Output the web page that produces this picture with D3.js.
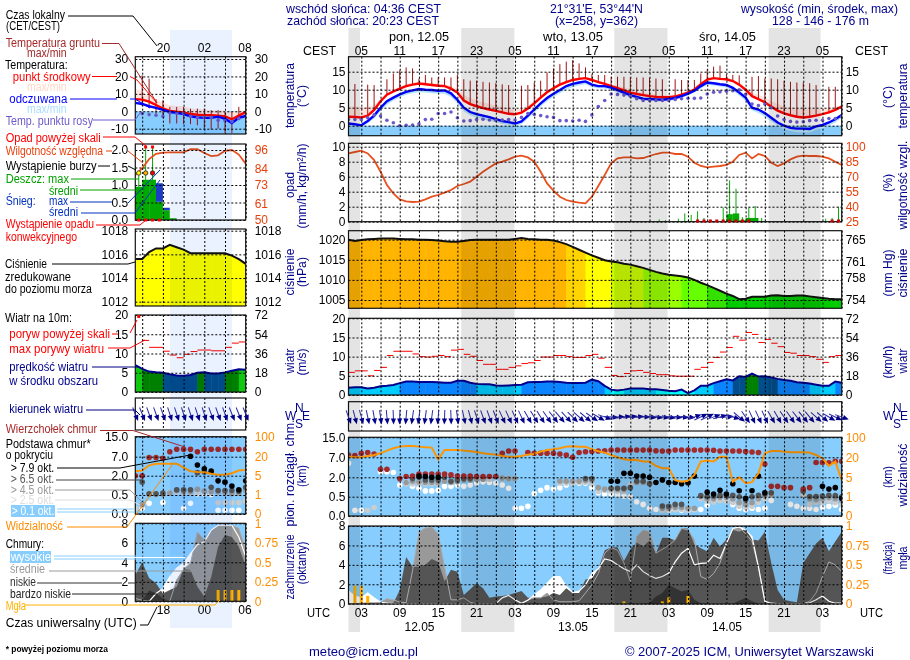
<!DOCTYPE html>
<html>
<head>
<meta charset="utf-8">
<script src="https://cdn.jsdelivr.net/npm/d3@7"></script>
<style>
body { margin: 0; background: #fff; }
svg { display: block; }
text { font-family: "Liberation Sans", Arial, sans-serif; font-size: 12px; }
.grid line { stroke: #000; stroke-dasharray: 2 2; }
.grid path { display: none; }
</style>
</head>
<body>
<svg id="chart" width="910" height="660"></svg>
<script>
const _ = null;

// hourly values for the main chart, hour 0 = 12.05 01 UTC
const tempMid = [2.5,2.4,2.3,2.8,4.4,6.8,8.6,9.5,10.3,11,
  11.4,11.7,11.5,11.3,11.1,11,10.3,9.2,7,6,
  5.4,4.9,4.5,4.1,3.7,3.3,3.2,3.6,4.8,6.2,
  7.8,9.3,10.4,11.4,12.1,12.7,13,13.2,12.7,12.1,
  11.6,11,10.4,9.8,9.2,8.8,8.5,8.2,8,7.9,
  7.9,8.1,8.6,9.2,10,11.5,12.8,13.2,13,12.9,
  12.4,11.4,10,8.2,7.4,6.5,5.3,4.2,3.4,2.9,
  2.5,2.3,2.5,2.8,3.2,3.7,4.4,5.3];
const tempMax = [5.3,5.3,5.2,5.2,5.7,7.3,9,9.9,10.8,11.5,
  11.9,12.1,12,11.9,11.7,11.5,11,10.3,8.5,7.6,
  7,6.5,6,5.6,5.2,4.8,4.6,4.8,5.6,6.9,
  8.3,9.8,10.8,11.8,12.4,13,13.3,13.5,13,12.5,
  12,11.5,11,10.7,10.2,9.6,9.2,8.9,8.6,8.5,
  8.5,8.6,9,9.6,10.3,11.8,13,13.4,13.3,13.2,
  12.8,12,10.6,9.2,8.5,7.8,6.8,6,5.3,5,
  4.8,4.7,4.7,4.7,4.8,5,5.3,5.8];
const feelsMid = [.6,.4,.1,1.3,2.8,5,6.8,7.8,8.7,9.4,
  9.8,10.2,10,9.9,9.7,9.8,9,7.2,5,3.8,
  3.2,2.8,2.4,1.8,1.3,1,.6,1.2,2.8,4.5,
  6.2,7.7,8.9,9.9,11,11.6,12,12.3,11.4,11,
  11,10.6,9.9,9.2,8.5,8,7.5,7.4,7.3,7.2,
  7.4,7.7,8.2,8.9,9.7,11,12,11.8,11.5,11.3,
  10.5,9.2,7.8,5,4.5,3.5,2.2,.9,0,-.6,
  -.8,-.8,-.9,-.2,.2,.9,1.8,3];
const feelsMin = [0,-.1,-.3,.6,2,4,5.8,6.9,7.9,8.6,
  9,9.3,9.2,9,8.9,8.9,8,6.2,4,2.9,
  2.3,1.8,1.4,.9,.5,.2,-.1,.4,1.9,3.6,
  5.3,6.8,8,9,10,10.7,11.2,11.5,10.7,10.4,
  10.3,9.9,9.2,8.5,7.9,7.4,7,6.9,6.8,6.7,
  6.9,7.2,7.7,8.4,9.2,10.3,11.3,11.2,10.9,10.6,
  9.7,8.4,6.8,4.2,3.5,2.5,1.2,0,-1,-1.5,
  -1.8,-1.9,-1.9,-1.2,-.7,0,.9,2.2];
const dewPoint = [1.7,1.7,1.7,2.2,3,2.7,1.5,.8,0,.1,
  .2,.5,1.7,1.8,3.4,3.4,3.8,2.2,1.3,1.4,
  1.7,1.8,1.6,1.5,1.6,1.7,1.6,2.3,3.4,3.1,
  2.8,2.5,2.3,1.4,1.4,1.3,1.5,1.2,3,5.3,
  7,8.8,8.7,8.5,8.2,7.5,7,7,7,7,
  7,7.3,7.5,7.6,7.6,7.7,8.8,9.3,9.4,9.6,
  9.7,10,8.7,6,5.6,6,5,2.7,1.7,1.2,
  1,1.1,1.4,1.5,1.5,2,2,2.5];
const groundMax = [_,11.6,_,11.4,11.3,_,12.9,14.5,15.4,16.2,
  15.9,13.1,14.1,13.4,13.4,13.4,13.4,14.1,12.9,12.5,
  12.5,12.2,12,11.8,11.5,11.3,_,11.1,11.3,12,
  12.5,14.8,15.9,17.1,17.8,18.2,17.3,16.2,14.3,14.1,
  14.1,13.6,13.6,13.6,13.4,13.4,13.4,13.3,13.1,12.9,
  _,12.9,12.7,12.7,12.7,14.5,15.6,16.4,16.7,14.3,
  14.1,14,_,13.6,13.8,13.1,13.1,12.9,12.5,12.2,
  12,12,11.8,11.3,_,10.8,10.8,_];
const relHumidity = [93.3,94.7,96,93.3,86.7,75,61.7,53.3,47.3,45.3,
  44.7,45,47.3,50,51.7,54,56.7,60.7,62.7,65,
  70,75,79.3,83.3,85,87.3,90,91,89.3,85,
  75,63.3,56,50,46.7,45,44,43.3,50,60.7,
  71.7,83.3,88.3,89.3,89.3,88.3,88.7,90.7,92.7,94,
  94,92.7,92.7,90,84,80.7,79.3,80,80.7,81.7,
  85,91.7,94,88.3,92.7,90.7,84,80.7,83.3,87.3,
  90,91,90.7,90.7,90,88.3,85,81.7];
const rainHours = [48,49,51,52,53,54,55,58,59,60,61,62,63,64,74,75,76];
const rainMax = [.3,.2,.4,1.1,.9,1.4,.5,1.9,5.5,4.4,.6,1.9,2.1,.5,.4,.5,2];
const rainMean = [0,0,0,.1,.05,.05,0,.1,1,1.1,.2,.5,.5,.1,0,0,.05];
const convectiveHours = [54,55,56,57,58,59,60,61,62,75,76];
const pressure = [1020,1019.7,1019.9,1020.1,1020.2,1020.3,1020.3,1020.3,1020.2,1020.1,
  1020.1,1020,1020,1019.9,1019.8,1019.6,1019.5,1019.5,1019.7,1019.9,
  1020,1020,1020,1020,1020,1020,1020.2,1020.4,1020.2,1020.1,
  1020,1020,1019.8,1019.4,1018.9,1018.2,1017.5,1016.8,1016.1,1015.5,
  1014.9,1014.6,1014.4,1014,1013.8,1013.4,1013,1012.5,1012,1011.6,
  1011.3,1011.1,1010.9,1010.6,1010,1009.3,1008.7,1008,1007.3,1006.6,
  1006,1005.2,1005.3,1005.8,1005.8,1005.8,1006.1,1006.2,1006,1006,
  1006.1,1006.1,1005.9,1005.7,1005.5,1005.3,1005.2,1005.2];
const windSpeed = [1.9,2,2,1.7,1.9,2.3,2.4,2.6,3.1,3.5,
  3.5,3.4,3.4,3.4,3.3,3.2,3.2,3.7,3.7,3.2,
  2.9,2.8,2.8,2.5,2.4,2.5,2.6,2.7,3.3,3.4,
  3.4,3.5,3.5,3.4,3.2,3.1,3.1,3.2,4,3.6,
  2.4,1.4,1.2,1.4,1.7,1.7,1.7,1.5,1.5,1.3,
  1.1,1,1.4,.5,1.2,2.4,2.4,3.1,3.6,4.1,
  3.8,4.9,4.7,5.6,4.8,4.9,4.6,4.2,3.9,3.7,
  3.3,3.2,3,2.7,2.4,2.4,3.5,3.2];
const windGust = [5.9,6.3,6.3,5,6.4,7.2,10.3,11.4,11.4,11.4,
  10.7,10,9.9,10.1,10.3,10,11.7,11.9,10.6,10.1,
  9,8,8,6.7,6.7,7.2,7.6,8.2,8.4,9,
  9.9,9.9,10.3,10.3,10,9.8,9.8,10.3,10.6,9.6,
  7.2,5.1,4.8,5.6,6.3,6.4,5.9,5.6,5.3,5.3,
  5,4.9,4.9,4.9,6.7,7.2,8.5,9.8,11.2,12.4,
  15.3,14.3,16.3,15.8,13.7,14.5,13.5,12.6,11.1,10.9,
  10.3,10.3,10,9.3,8.5,10,10.3];
const windDir = [340,345,345,348,350,352,355,358,2,5,
  8,8,8,8,5,2,358,352,348,345,
  342,340,340,338,335,335,335,335,330,328,
  328,325,322,320,318,315,312,310,305,300,
  290,275,268,262,262,265,270,275,278,278,
  280,275,275,275,250,245,245,250,255,265,
  285,310,325,335,335,335,330,330,325,325,
  322,320,320,312,310,300,295,290];
const cloudTop = [7.9,7.7,8.6,8.9,8.3,4,4,_,1.9,2.2,
  2.3,2.8,2.8,2.8,2.8,2.8,2.6,2.3,2.3,2.3,
  2.2,2.2,2.2,2.2,8.6,9.5,9.5,_,8.9,8.6,
  8.6,8.6,8.6,8.3,7.9,7,8.9,9.2,9.3,9.5,
  9.6,9.9,9.9,9.9,9.9,9.9,9.9,9.9,9.6,9.5,
  9.5,9.9,9.9,9.9,9.9,9.9,9.9,9.8,9.5,9.5,
  9.5,9.5,9.3,9.1,8.9,5.3,1.3,1.3,1.2,1.2,
  _,1.1,1.2,5.7,5.7,5.6,6,6];
const base79 = [_,_,_,_,_,_,_,_,_,_,
  _,2.3,2.2,2,2,_,_,_,_,_,
  _,_,_,_,_,_,_,_,_,_,
  _,_,_,_,_,_,_,_,_,_,
  _,1.7,1.7,3,3,2.3,2.3,2,1.6,1.8,
  1.6,1.6,1.5,1.6,2.3,_,.85,.7,1,.7,
  1.5,.96,.46,.96,2.3,.8,_,_,_,_,
  _,_,_,_,1.3,1.1,1.2,.46];
const base65 = [_,_,_,_,_,_,_,_,_,_,
  1.9,2,1.8,1.8,1.8,2,1.7,1.8,1.9,1.9,
  _,_,_,_,_,_,_,_,_,_,
  _,_,_,_,_,_,_,1.9,1.9,_,
  _,1.15,1.15,1.15,1.2,1.7,1.7,1.5,_,.26,
  .25,.3,.3,1.55,_,.58,.52,.55,.6,.6,
  .6,.5,.42,.5,.6,.7,.8,_,_,_,
  _,.95,.52,.52,.55,.6,.58,.5];
const base45 = [_,_,_,_,_,_,_,_,_,1.6,
  1.7,1.65,1.6,1.6,1.6,1.7,1.6,1.65,1.8,1.8,
  1.85,1.85,_,_,1.95,1.9,1.9,_,_,_,
  _,_,_,1.7,1.7,1.7,1.7,1.75,1.75,1.2,
  1.1,1.1,1.1,1.05,_,1.6,1.6,1.55,_,.2,
  .2,.22,.22,.2,.2,.52,.45,.45,.48,.48,
  .45,.35,.3,.35,.45,.55,.7,_,_,_,
  _,.9,.45,.42,.45,.48,.45,.4];
const base25 = [_,_,_,.15,.22,_,_,_,_,1.5,
  1.5,1.5,1.5,1.5,1.5,_,_,_,1.85,1.85,
  1.9,1.9,1.85,_,1.9,1.9,_,_,_,_,
  _,_,_,1.55,1.55,1.55,1.6,1.6,1.5,.9,
  1,.95,.95,.9,1.45,1.6,_,_,_,.15,
  .15,.17,.17,.15,.17,.45,.38,.36,.4,.38,
  .35,.25,.22,.25,.35,.45,.6,_,_,_,
  _,.6,.3,.35,.35,.38,.35,.3];
const base01 = [5.5,.15,.15,_,_,3.4,3.4,3.2,1.4,1.6,
  1.3,1.15,.95,.95,1,1.3,1.3,1.4,1.3,1.4,
  1.55,1.65,1.6,1.55,1.4,1.15,.2,.2,.25,.75,
  1,1.2,1.1,1.2,1.4,1.55,1.55,1.55,1.2,.8,
  .7,.7,.65,.55,.5,.37,.3,.2,.17,.15,
  .15,.17,.15,.15,.17,.17,.28,.4,.43,.43,
  .3,.2,.17,.2,.17,.2,.4,_,_,.3,
  .25,.2,.2,.17,.22,.25,.28,.17];
const visibility = [22.7,20,20,25.3,29.3,36,46.7,56,62.7,65.3,
  65.3,62.7,60,58.7,18.5,49.3,49.3,49.3,46.7,44,
  41.3,36,33.3,30.7,25.3,22.7,22.7,25.3,30.7,33.3,
  42.7,49.3,52,56,62.7,64,62.7,62.7,52,44,
  38.7,29.3,20,18.5,18,18,16.8,16.8,13.5,11.8,
  11.8,4.4,4.1,4.3,6.8,16.8,17.5,16.8,22.7,22.7,
  4.1,5,3.8,4,8,36,45.3,45.3,42.7,40,
  40,40,38.7,29.3,19.3,13.5,16.8,4.4];
const cloudHigh = [1.3,.75,.6,1.1,.6,.15,.05,0,0,0,
  0,0,0,0,0,0,0,0,0,0,
  0,0,0,0,.6,.85,.4,.05,.35,.9,
  1.4,2.1,2.8,2.8,1.8,1.15,1.3,1.95,3.1,3.6,
  4.6,4.45,4,3.6,3.3,4,3.3,2.9,2.6,2.8,
  3.15,4.3,5.2,5.7,4,4.15,4.2,5,4.65,6.2,
  7.75,7.9,7.6,6.9,3.8,.25,.05,0,0,0,
  0,0,.1,.4,.8,.25,.05,.05];
const cloudMid = [0,0,.05,.1,.1,.15,.5,.4,.15,.1,
  3.4,7.4,7.8,7.9,7.2,3.8,.4,.4,.6,.15,
  0,0,0,0,0,.05,0,0,.4,.6,
  .6,1.1,.4,.2,.2,.2,.3,1.1,1.95,3.1,
  5.2,5.8,5.5,4.2,2.3,6.9,7.6,7.4,5.2,5.6,
  6,6.6,7.75,7.6,6.6,2.8,2.5,3.1,4.2,6.2,
  7.75,7.9,7.2,6.4,3.8,.25,.05,0,0,0,
  0,0,.25,1.1,2.8,4.3,4,3.3];
const cloudLow = [0,0,0,0,0,0,0,.05,1.4,4.8,
  3.8,3.8,4,4.6,4.3,2.3,3.5,3.3,.9,1.5,
  2.1,1.6,.6,.75,.8,.9,1.1,1.3,.6,.6,
  .6,.75,1.1,.9,1.6,1.1,1.1,2.5,2.6,3.6,
  5.5,5.8,5.8,4.4,5.6,6.3,5.9,6.5,5.2,6.8,
  6.8,6.5,7.75,7.75,6.1,5.7,5.4,6.8,5.9,6.6,
  7.6,7.4,7.75,6.6,6.5,7.4,4.2,1.4,.4,.25,
  .15,4.2,5.2,6.2,6.8,5.4,6.4,7.4];
const cloudVeryLow = [0,.1,.05,.1,0,0,0,0,0,0,
  0,0,0,0,0,0,0,0,0,0,
  0,0,0,0,0,0,0,0,0,0,
  0,0,0,0,0,0,0,0,0,0,
  0,0,0,0,0,0,0,.1,.75,1.1,
  1.95,1.6,1.25,1.4,.4,.05,0,0,0,0,
  0,.3,.6,.25,0,0,0,0,0,0,
  0,0,0,0,.05,0,0,0];
const fogHours = [1,2,3,43,49,50,53];
const fogFraction = [.23,.23,.1,.03,.03,.08,.1];

// legend panels on the left, sample hours 14 UTC .. 06 UTC
const tempMidL = [7,6.7,5.5,3.6,1.6,.2,-.3,-.7,-1.6,-2,-2.2,-2.3,-2.5,-2.9,-4.6,-2.5,-.4];
const tempMaxL = [13,11.5,8.5,6.5,5,3.5,3,3,1.5,1.5,1,.5,.5,.5,-.5,.5,.5];
const feelsMidL = [4.8,4.2,2.9,2,.8,-.4,-.9,-1.6,-2.9,-3.5,-3.8,-3.8,-3.1,-4.4,-6.7,-3.8,-2.7];
const dewPointL = [_,-1.3,-1.9,-2.3,-2.9,-1,-1.3,-1.3,-2.9,-3.6,-3.6,-3.6,-5.1,-5.5,-6,-4.2,_];
const groundMaxL = [_,20.6,18.7,7,6.3,2.5,2.5,2.5,1.5,1.5,1.5,.6,.6,-.4,-.4,2.5,_];
const groundMinL = [_,3,2,-2,-3,-7,-7,-7.4,-7.4,-8,-10,-10.5,-10,-12.4,-12.4,-5,_];
const relHumidityL = [79.5,84,90,93.5,94.3,94.5,94.5,94.5,96.5,96.5,94,92,92.5,95.5,96,93,87];
const rainMeanL = [.95,1.15,1.15,.52,.28,.05];
const snowTopL = [_,_,_,1.05,.35,_];
const rainLineTopL = [1.3,2,2];
const stormColorsL = ["#ffff00","#ffb000","#ff0000"];
const pressureL = [1015.6,1015.6,1016.2,1016.5,1016.5,1016.8,1016.6,1016.4,1016.1,1016.1,1016.1,1016.1,1016.1,1016.1,1015.9,1015.6,1015.2];
const windSpeedL = [7,6,5.3,5.1,5,4.6,4.3,4.2,4.4,5,5.1,4.8,4.8,5.1,5.5,5.9,5.8];
const windGustL = [_,13.4,11.6,11.6,10.6,9.6,8.9,9.8,10.5,10.9,10.9,10.7,10.7,11.6,12.7,13];
const windDirL = [338,338,340,340,340,342,342,342,342,342,342,340,340,340,338,338,338];
const cloudTopL = [2,2,6.8,6.8,6.6,9,10,10,10,9,10,10,10,10,10,10,10];
const base79L = [_,_,_,_,_,_,_,_,7.2,4.8,3.8,3.2,1.6,1.5,1.2,.9,1.6];
const base65L = [_,1.5,.6,.6,.65,_,.9,.9,.9,2.8,3,1.1,.85,.85,.85,.8,1.1];
const base45L = [_,.25,.55,.55,.55,.65,.85,.75,.75,.95,.8,.75,.75,.7,.6,.65,.85];
const base25L = [.15,.22,_,_,_,.7,.75,.65,.7,.7,.7,.65,.3,.3,.3,.3,.35];
const base01L = [_,.15,.28,_,.3,_,_,.15,.28,.6,.6,.55,.1,.1,.1,.1,_];
const visibilityL = [8.5,9.1,13.2,14.5,14.5,14.5,14.5,11.3,8.5,8,7.7,6.5,5.8,5.8,6.9,9.1,9.6];
const cloudHighL = [0,0,0,.8,1.3,2.5,3.4,3.9,4.9,5.8,6.1,7.3,7.8,7.8,7.8,6.6,4.6];
const cloudMidL = [.3,.1,0,0,0,0,2.2,3.3,3.9,7.1,6.3,7.3,7.8,7.8,7.8,7.5,5.3];
const cloudLowL = [2.7,4,2.4,1.85,.8,1.15,1.5,3.3,3.2,1.5,.5,2.5,5.6,6.8,6.6,5.6,3.6];
const cloudVeryLowL = [0,.1,1.1,.85,.3,0,0,0,0,0,0,0,0,0,0,0,0];
const fogHoursL = [12,13,14,15];
const fogFractionL = [.145,.145,.145,.145];

const topHourLabels = ["05","11","17","23","05","11","17","23","05","11","17","23","05"];
const utcHourLabels = ["03","09","15","21","03","09","15","21","03","09","15","21","03"];

const svg = d3.select("#chart");
const xMain = d3.scaleLinear([0, 77], [348.5, 841.7]);
const xLeft = d3.scaleLinear([0, 16], [135.3, 245.7]);
const sky = "#87ceff";
const navy = "#00008b";

let clipId = 0;

// one panel: clip, marks layer; frame and grid are drawn on top later
function panel(x, top, bottom) {
    const id = "clip" + (clipId++);
    const [x0, x1] = x.range();
    svg.append("clipPath").attr("id", id).append("rect")
        .attr("x", x0).attr("y", top).attr("width", x1 - x0).attr("height", bottom - top);
    return svg.append("g").attr("clip-path", `url(#${id})`);
}

function frame(x, gridHours, top, bottom, left, right) {
    const [x0, x1] = x.range();
    const g = svg.append("g");
    g.append("g").attr("class", "grid").attr("transform", `translate(0,${top})`)
        .call(d3.axisBottom(x).tickValues(gridHours).tickSize(bottom - top).tickFormat(""));
    const la = g.append("g").attr("class", "grid").attr("transform", `translate(${x0},0)`)
        .call(d3.axisLeft(left.scale).tickValues(left.ticks).tickSize(-(x1 - x0)).tickPadding(left.pad)
            .tickFormat(left.format || (d => d)));
    la.selectAll("text").attr("fill", "#000");
    const ra = g.append("g").attr("transform", `translate(${x1},0)`)
        .call(d3.axisRight(right.scale).tickValues(right.ticks).tickSize(0).tickPadding(right.pad)
            .tickFormat(right.format || (d => d)));
    ra.select(".domain").remove();
    ra.selectAll("text").attr("fill", right.color || "#000");
    g.append("rect").attr("x", x0).attr("y", top).attr("width", x1 - x0).attr("height", bottom - top)
        .attr("fill", "none").attr("stroke", "#111").attr("stroke-width", 1.2);
}

function linePath(g, x, y, values, color, width) {
    g.append("path")
        .attr("d", d3.line().defined(d => d != null).x((d, i) => x(i)).y(d => y(d))(values))
        .attr("fill", "none").attr("stroke", color).attr("stroke-width", width);
}

function bandPath(g, x, y, low, high, color) {
    g.append("path")
        .attr("d", d3.area().x((d, i) => x(i)).y0((d, i) => y(low[i])).y1(d => y(d))(high))
        .attr("fill", color);
}

function columns(g, x, y, values, bottom, color) {
    const id = "clip" + (clipId++);
    svg.append("clipPath").attr("id", id).append("path")
        .attr("d", d3.area().x((d, i) => x(i)).y0(bottom).y1(d => y(d))(values));
    g.append("g").attr("clip-path", `url(#${id})`).selectAll("rect")
        .data(values.slice(0, -1)).enter().append("rect")
        .attr("x", (d, i) => x(i)).attr("width", (d, i) => x(i + 1) - x(i) + .5)
        .attr("y", bottom - 90).attr("height", 90)
        .attr("fill", (d, i) => color((d + values[i + 1]) / 2));
}

function dots(g, x, y, values, color, r) {
    g.append("g").selectAll("circle")
        .data(values.map((d, i) => [i, d]).filter(d => d[1] != null)).enter().append("circle")
        .attr("cx", d => x(d[0])).attr("cy", d => y(d[1])).attr("r", r).attr("fill", color);
}

function temperaturePanel(x, yT, top, bottom, series) {
    const g = panel(x, top, bottom);
    g.append("rect").attr("x", x.range()[0]).attr("width", x.range()[1] - x.range()[0])
        .attr("y", yT(0)).attr("height", bottom - yT(0)).attr("fill", sky);
    bandPath(g, x, yT, series.mid, series.max, "#ffe4de");
    bandPath(g, x, yT, series.feels, series.feelsMin, "#b5e3ff");
    g.append("g").selectAll("line")
        .data(series.groundMax.map((d, i) => [i, d]).filter(d => d[1] != null)).enter().append("line")
        .attr("x1", d => x(d[0])).attr("x2", d => x(d[0]))
        .attr("y1", d => yT(d[1])).attr("y2", d => yT(series.groundMin[d[0]]))
        .attr("stroke", "#a01414").attr("stroke-width", 1);
    linePath(g, x, yT, series.mid, "#ff0000", 2.4);
    linePath(g, x, yT, series.feels, "#0000ff", 2.4);
    dots(g, x, yT, series.dew, "#6a5acd", 1.8);
}

function pressurePanel(x, yP, top, bottom, values) {
    const g = panel(x, top, bottom);
    columns(g, x, yP, values, bottom, pressureColor);
    linePath(g, x, yP, values, "#111", 2);
}

function windPanel(x, yW, top, bottom, speed, gust) {
    const g = panel(x, top, bottom);
    columns(g, x, yW, speed, bottom, windColor);
    linePath(g, x, yW, speed, "#000090", 2);
    g.append("g").selectAll("line")
        .data(gust.map((d, i) => [i, d]).filter(d => d[1] != null)).enter().append("line")
        .attr("x1", d => x(d[0])).attr("x2", d => x(d[0] + 1))
        .attr("y1", d => yW(d[1])).attr("y2", d => yW(d[1]))
        .attr("stroke", "#ff0000").attr("stroke-width", 1);
}

function arrows(x, cy, dirs) {
    const g = svg.append("g");
    const a = g.selectAll("g").data(dirs).enter().append("g")
        .attr("transform", (d, i) => `translate(${x(i)},${cy}) rotate(${d})`);
    a.append("line").attr("y1", -7).attr("y2", 4).attr("stroke", "#2a2aa8").attr("stroke-width", 1);
    a.append("path").attr("d", "M0 7.5 L-2.6 1.5 L2.6 1.5 Z").attr("fill", "#00008b");
}

function basePanel(x, yB, yV, top, bottom, s, r) {
    const g = panel(x, top, bottom);
    g.append("rect").attr("x", x.range()[0]).attr("y", top)
        .attr("width", x.range()[1] - x.range()[0]).attr("height", bottom - top).attr("fill", sky);
    dots(g, x, yB, s.b01, "#ffffff", r);
    dots(g, x, yB, s.b25, "#cccccc", r);
    dots(g, x, yB, s.b45, "#999999", r);
    dots(g, x, yB, s.b65, "#555555", r);
    dots(g, x, yB, s.top, "#a52a2a", r);
    dots(g, x, yB, s.b79, "#000000", r);
    linePath(g, x, yV, s.vis, "#ff9500", 2);
}

function cloudPanel(x, yC, yF, top, bottom, s, fogH, fogF) {
    const g = panel(x, top, bottom);
    g.append("rect").attr("x", x.range()[0]).attr("y", top)
        .attr("width", x.range()[1] - x.range()[0]).attr("height", bottom - top).attr("fill", sky);
    const zero = s.high.map(() => 0);
    bandPath(g, x, yC, zero, s.high, "#ffffff");
    bandPath(g, x, yC, zero, s.mid, "#999999");
    bandPath(g, x, yC, zero, s.low, "#555555");
    bandPath(g, x, yC, zero, s.veryLow, "#333333");
    linePath(g, x, yC, s.mid, "#aaaaaa", 1);
    linePath(g, x, yC, s.high, "#ffffff", 1.2);
    g.append("g").selectAll("rect").data(fogH).enter().append("rect")
        .attr("x", d => x(d) - 1.5).attr("width", 3)
        .attr("y", (d, i) => yF(fogF[i])).attr("height", (d, i) => yF(0) - yF(fogF[i]))
        .attr("fill", "#ffb000");
}

const pressureColor = d3.scaleThreshold()
    .domain([1006.4, 1008.5, 1010.8, 1013.1, 1014.7, 1016.9, 1018.9])
    .range(["#00cc00", "#33e000", "#66ff00", "#99ff00", "#ccff00", "#ffff00", "#ffd400", "#ffb400"]);
const windColor = d3.scaleThreshold()
    .domain([1.5, 3, 4.2, 5, 5.8])
    .range(["#00ffff", "#00ccff", "#0a84ff", "#004e8c", "#008000", "#10c810"]);

// ---- main column ----
const gridMain = d3.range(2, 78, 3);
const yTemp = d3.scaleLinear([0, 15], [125.7, 71.7]);
temperaturePanel(xMain, yTemp, 56.7, 135.7, {mid: tempMid, max: tempMax, feels: feelsMid, feelsMin: feelsMin,
    dew: dewPoint, groundMax: groundMax, groundMin: tempMid});
frame(xMain, gridMain, 56.7, 135.7, {scale: yTemp, ticks: [0, 5, 10, 15], pad: 3}, {scale: yTemp, ticks: [0, 5, 10, 15], pad: 4});

const yRain = d3.scaleLinear([0, 10], [221.7, 146.7]);
const yRh = d3.scaleLinear([25, 100], [221.7, 146.7]);
const rainG = panel(xMain, 143.3, 222.5);
rainG.append("g").selectAll("rect").data(rainHours).enter().append("rect")
    .attr("x", d => xMain(d)).attr("width", xMain(1) - xMain(0))
    .attr("y", (d, i) => yRain(rainMean[i])).attr("height", (d, i) => yRain(0) - yRain(rainMean[i]))
    .attr("fill", "#00aa00");
rainG.append("g").selectAll("line").data(rainHours).enter().append("line")
    .attr("x1", d => xMain(d + .5)).attr("x2", d => xMain(d + .5))
    .attr("y1", (d, i) => yRain(rainMax[i])).attr("y2", yRain(0))
    .attr("stroke", "#00aa00").attr("stroke-width", 1);
linePath(rainG, xMain, yRh, relHumidity, "#e8501e", 1.8);
frame(xMain, gridMain, 143.3, 221.7, {scale: yRain, ticks: [0, 2, 4, 6, 8, 10], pad: 3},
    {scale: yRh, ticks: [25, 40, 55, 70, 85, 100], pad: 4, color: "#e8400c"});
svg.append("g").selectAll("rect").data(convectiveHours).enter().append("rect")
    .attr("x", d => xMain(d + .5) - 1.5).attr("y", 219.5).attr("width", 3).attr("height", 3).attr("fill", "#cc0000");

const yPres = d3.scaleLinear([1005, 1020], [300, 239.7]);
const yMm = d3.scaleLinear([754, 765], [300, 239.7]);
pressurePanel(xMain, yPres, 230.7, 308.3, pressure);
frame(xMain, gridMain, 230.7, 308.3, {scale: yPres, ticks: [1005, 1010, 1015, 1020], pad: 3}, {scale: yMm, ticks: [754, 758, 761, 765], pad: 4});

const yWind = d3.scaleLinear([0, 20], [395, 318.3]);
const yKmh = d3.scaleLinear([0, 72], [395, 318.3]);
windPanel(xMain, yWind, 318.3, 395, windSpeed, windGust);
frame(xMain, gridMain, 318.3, 395, {scale: yWind, ticks: [0, 5, 10, 15, 20], pad: 3}, {scale: yKmh, ticks: [0, 18, 36, 54, 72], pad: 4});

const yDirMain = d3.scaleLinear([0, 1], [431, 401.7]);
frame(xMain, gridMain, 401.7, 431, {scale: yDirMain, ticks: [], pad: 3}, {scale: yDirMain, ticks: [], pad: 3});
arrows(xMain, 417, windDir);

const baseTicks = [0, .5, 2, 7, 15];
const visTicks = [0, 1, 5, 20, 100];
const yBase = d3.scaleLinear(baseTicks, [516, 496.7, 477.3, 457.3, 437.3]);
const yVis = d3.scaleLinear(visTicks, [516, 496.7, 477.3, 457.3, 437.3]);
basePanel(xMain, yBase, yVis, 437.3, 516, {b01: base01, b25: base25, b45: base45, b65: base65, b79: base79, top: cloudTop, vis: visibility}, 2.8);
frame(xMain, gridMain, 437.3, 516, {scale: yBase, ticks: baseTicks, pad: 3, format: d3.format(".1f")}, {scale: yVis, ticks: visTicks, pad: 4, color: "#ff8c00"});

const yCloud = d3.scaleLinear([0, 8], [603.7, 526]);
const yFrac = d3.scaleLinear([0, 1], [603.7, 526]);
cloudPanel(xMain, yCloud, yFrac, 526, 604, {high: cloudHigh, mid: cloudMid, low: cloudLow, veryLow: cloudVeryLow}, fogHours, fogFraction);
frame(xMain, gridMain, 526, 604, {scale: yCloud, ticks: [0, 2, 4, 6, 8], pad: 3}, {scale: yFrac, ticks: [0, .25, .5, .75, 1], pad: 4, color: "#ff8c00"});

// ---- legend column ----
const gridLeft = d3.range(1, 17, 3);
const yTempL = d3.scaleLinear([-10, 30], [128.7, 59]);
temperaturePanel(xLeft, yTempL, 56.7, 134, {mid: tempMidL, max: tempMaxL, feels: feelsMidL, feelsMin: feelsMidL,
    dew: dewPointL, groundMax: groundMaxL, groundMin: groundMinL});
frame(xLeft, gridLeft, 56.7, 134, {scale: yTempL, ticks: [-10, 0, 10, 20, 30], pad: 7}, {scale: yTempL, ticks: [-10, 0, 10, 20, 30], pad: 9});

const yRainL = d3.scaleLinear([0, 2], [220, 150]);
const yRhL = d3.scaleLinear([50, 96], [220, 150]);
const rainL = panel(xLeft, 144, 220.5);
rainL.append("g").selectAll("rect").data(rainMeanL).enter().append("rect")
    .attr("x", (d, i) => xLeft(i)).attr("width", xLeft(1) - xLeft(0))
    .attr("y", d => yRainL(d)).attr("height", d => yRainL(0) - yRainL(d)).attr("fill", "#00aa00");
rainL.append("g").selectAll("rect").data(snowTopL.map((d, i) => [i, d]).filter(d => d[1] != null)).enter().append("rect")
    .attr("x", d => xLeft(d[0])).attr("width", xLeft(1) - xLeft(0))
    .attr("y", d => yRainL(d[1])).attr("height", d => yRainL(rainMeanL[d[0]]) - yRainL(d[1])).attr("fill", "#1c3cc8");
rainL.append("g").selectAll("line").data(rainLineTopL).enter().append("line")
    .attr("x1", (d, i) => xLeft(i + .5)).attr("x2", (d, i) => xLeft(i + .5))
    .attr("y1", d => d >= 2 ? 147 : yRainL(d)).attr("y2", yRainL(0)).attr("stroke", "#00aa00");
linePath(rainL, xLeft, yRhL, relHumidityL, "#e8501e", 1.8);
frame(xLeft, gridLeft, 144, 220, {scale: yRainL, ticks: [0, .5, 1, 1.5, 2], pad: 7, format: d3.format(".1f")},
    {scale: yRhL, ticks: [50, 61, 73, 84, 96], pad: 9, color: "#e8400c"});
svg.append("g").selectAll("rect").data(rainLineTopL.slice(1)).enter().append("rect")
    .attr("x", (d, i) => xLeft(i + 1.5) - 1.5).attr("y", 145.5).attr("width", 3).attr("height", 3).attr("fill", "#ff0000");
svg.append("g").selectAll("circle").data(stormColorsL).enter().append("circle")
    .attr("cx", (d, i) => xLeft(i + .5)).attr("cy", 173).attr("r", 2.2)
    .attr("fill", d => d).attr("stroke", "#222").attr("stroke-width", .8);
svg.append("g").selectAll("rect").data(rainMeanL.slice(0, 4)).enter().append("rect")
    .attr("x", (d, i) => xLeft(i + .5) - 1.5).attr("y", 218.5).attr("width", 3).attr("height", 3).attr("fill", "#ff0000");

const yPresL = d3.scaleLinear([1012, 1018], [301.7, 230.7]);
pressurePanel(xLeft, yPresL, 229, 306, pressureL);
frame(xLeft, gridLeft, 229, 306, {scale: yPresL, ticks: [1012, 1014, 1016, 1018], pad: 7}, {scale: yPresL, ticks: [1012, 1014, 1016, 1018], pad: 9});

const yWindL = d3.scaleLinear([0, 20], [392, 315]);
const yKmhL = d3.scaleLinear([0, 72], [392, 315]);
windPanel(xLeft, yWindL, 315, 392, windSpeedL, windGustL);
frame(xLeft, gridLeft, 315, 392, {scale: yWindL, ticks: [0, 5, 10, 15, 20], pad: 7}, {scale: yKmhL, ticks: [0, 18, 36, 54, 72], pad: 9});
svg.append("rect").attr("x", xLeft(.5) - 1.5).attr("y", 315).attr("width", 3).attr("height", 3).attr("fill", "#ff0000");

const yDirL = d3.scaleLinear([0, 1], [430, 398]);
frame(xLeft, gridLeft, 398, 430, {scale: yDirL, ticks: [], pad: 3}, {scale: yDirL, ticks: [], pad: 3});
arrows(xLeft, 414, windDirL);

const yBaseL = d3.scaleLinear(baseTicks, [514, 495, 475.7, 456.7, 436.7]);
const yVisL = d3.scaleLinear(visTicks, [514, 495, 475.7, 456.7, 436.7]);
basePanel(xLeft, yBaseL, yVisL, 436.7, 514, {b01: base01L, b25: base25L, b45: base45L, b65: base65L, b79: base79L, top: cloudTopL, vis: visibilityL}, 2.8);
frame(xLeft, gridLeft, 436.7, 514, {scale: yBaseL, ticks: baseTicks, pad: 7, format: d3.format(".1f")}, {scale: yVisL, ticks: visTicks, pad: 9, color: "#ff8c00"});

const yCloudL = d3.scaleLinear([0, 8], [601.3, 523.3]);
const yFracL = d3.scaleLinear([0, 1], [601.3, 523.3]);
cloudPanel(xLeft, yCloudL, yFracL, 523.3, 601.3, {high: cloudHighL, mid: cloudMidL, low: cloudLowL, veryLow: cloudVeryLowL}, fogHoursL, fogFractionL);
frame(xLeft, gridLeft, 523.3, 601.3, {scale: yCloudL, ticks: [0, 2, 4, 6, 8], pad: 7}, {scale: yFracL, ticks: [0, .25, .5, .75, 1], pad: 9, color: "#ff8c00"});

// ---- night bands on top of everything ----
const nightMain = [[0, 1.8], [17.6, 25.9], [41.5, 49.8], [65.6, 73.7]];
svg.append("g").style("mix-blend-mode", "multiply").selectAll("rect").data(nightMain).enter().append("rect")
    .attr("x", d => xMain(d[0])).attr("width", d => xMain(d[1]) - xMain(d[0]))
    .attr("y", 28).attr("height", 604).attr("fill", "#e4e4e4");
svg.append("rect").style("mix-blend-mode", "multiply")
    .attr("x", 170).attr("width", 62).attr("y", 30).attr("height", 598).attr("fill", "#ebf2ff");

// ---- hour labels ----
const centerText = (g, x, y, s, fill) => g.append("text").attr("x", x).attr("y", y).attr("text-anchor", "middle").attr("fill", fill || "#000").text(s);
const labels = svg.append("g");
topHourLabels.forEach((s, i) => centerText(labels, xMain(2 + 6 * i), 55, s));
utcHourLabels.forEach((s, i) => centerText(labels, xMain(2 + 6 * i), 617, s));
[["12.05", 419.5], ["13.05", 573], ["14.05", 727]].forEach(d => centerText(labels, d[1], 631, d[0]));
[["20", 163.5], ["02", 204.5], ["08", 245]].forEach(d => centerText(labels, d[1], 52, d[0]));
[["18", 163.5], ["00", 204.5], ["06", 245]].forEach(d => centerText(labels, d[1], 614, d[0]));

// ---- plain texts: string, x start, baseline, colour, x end ----
const textRows = [
    ["wschód słońca: 04:36 CEST", 286, 13, navy, 441], ["zachód słońca: 20:23 CEST", 287, 25, navy, 439],
    ["21°31'E, 53°44'N", 550, 13, navy, 643], ["(x=258,  y=362)", 555, 25, navy, 638],
    ["wysokość (min, środek, max)", 741, 13, navy, 898], ["128 - 146 - 176 m", 772, 25, navy, 869],
    ["pon, 12.05", 389, 41, "#000", 449], ["wto, 13.05", 543, 41, "#000", 603], ["śro, 14.05", 699, 41, "#000", 756],
    ["CEST", 303, 55, "#000", 336], ["CEST", 855, 55, "#000", 888], ["UTC", 307, 617, "#000", 330], ["UTC", 860, 617, "#000", 883],
    ["meteo@icm.edu.pl", 309, 656, navy, 418], ["© 2007-2025 ICM, Uniwersytet Warszawski", 625, 656, navy, 874],
    ["Czas lokalny", 5.7, 19, "#000", 65], ["(CET/CEST)", 6, 30, "#000", 60],
    ["Temperatura gruntu", 5.7, 46.5, "#a52a2a", 100], ["max/min", 27, 57, "#a52a2a", 66.7],
    ["Temperatura:", 5, 68.5, "#000", 67.7], ["punkt środkowy", 12.7, 81, "#ff0000", 90.7], ["max/min", 27, 91, "#ffd8c8", 66.7],
    ["odczuwana", 9.3, 103, "#0000ff", 67.3], ["max/min", 27, 112.5, "#aaddff", 66.7], ["Temp. punktu rosy", 5.7, 125, "#6a5acd", 93],
    ["Opad powyżej skali", 5.7, 141.5, "#ff0000", 100.7], ["Wilgotność względna", 5.7, 155, "#e8400c", 103], ["Wystąpienie burzy", 5.7, 170, "#000", 96.7],
    ["Deszcz: max", 5.7, 183, "#00a000", 69], ["średni", 49, 195, "#00a000", 78], ["Śnieg:", 5.7, 205, "#0030c0", 35.7], ["max", 49, 205, "#0030c0", 68], ["średni", 49, 216, "#0030c0", 78],
    ["Wystąpienie opadu", 5.7, 228, "#ff0000", 94], ["konwekcyjnego", 5.7, 241, "#ff0000", 77],
    ["Ciśnienie", 5, 268, "#000", 47], ["zredukowane", 5, 281, "#000", 71], ["do poziomu morza", 5, 293, "#000", 92],
    ["Wiatr na 10m:", 5, 322, "#000", 72], ["poryw powyżej skali", 9.3, 338, "#ff0000", 110], ["max porywy wiatru", 9.3, 353, "#ff0000", 104],
    ["prędkość wiatru", 9.3, 371, navy, 88], ["w środku obszaru", 9.3, 385, navy, 98], ["kierunek wiatru", 9.3, 413, navy, 83],
    ["Wierzchołek chmur", 5.7, 433, "#a52a2a", 97], ["Podstawa chmur*", 5.7, 448, "#000", 90.7], ["o pokryciu", 5.7, 459, "#000", 53],
    ["> 7.9 okt.", 10.7, 472, "#000", 54.3], ["> 6.5 okt.", 10.7, 483, "#555", 54.3], ["> 4.5 okt.", 10.7, 494, "#999", 54.3], ["> 2.5 okt.", 10.7, 504, "#ddd", 54.3],
    ["Widzialność", 5.7, 530, "#ff8c00", 63], ["Chmury:", 5.7, 548, "#000", 44], ["średnie", 10, 573, "#999", 45],
    ["niskie", 10, 586, "#333", 36], ["bardzo niskie", 10, 598, "#222", 71], ["Mgła", 5.7, 610, "#ffb000", 26], ["Czas uniwersalny (UTC)", 5.7, 627, "#000", 136.7]
];
const texts = svg.append("g");
texts.append("rect").attr("x", 11).attr("y", 505).attr("width", 44).attr("height", 12).attr("fill", sky);
texts.append("rect").attr("x", 10).attr("y", 551).attr("width", 41).attr("height", 12).attr("fill", sky);
const fitText = (s, x, y, fill, end) => texts.append("text").attr("x", x).attr("y", y).attr("fill", fill)
    .attr("textLength", end - x).attr("lengthAdjust", "spacingAndGlyphs").text(s);
textRows.forEach(d => fitText(d[0], d[1], d[2], d[3], d[4]));
fitText("> 0.1 okt.", 11.7, 515, "#fff", 54.3);
fitText("wysokie", 10.7, 561, "#fff", 51);
fitText("* powyżej poziomu morza", 5.7, 652, "#000", 108).attr("font-weight", "bold").style("font-size", "9px");

// rotated axis titles: string, baseline x, centre y, length along the axis
const rotatedRows = [
    ["temperatura", 294, 95.5, 65], ["(°C)", 306, 96, 22], ["opad", 294, 185, 26], ["(mm/h, kg/m²/h)", 306, 186, 85],
    ["ciśnienie", 294, 272, 47], ["(hPa)", 306, 272, 30], ["wiatr", 294, 361, 25], ["(m/s)", 306, 362, 27],
    ["pion. rozciągł. chm.", 294, 473, 107], ["(km)", 306, 476, 22], ["zachmurzenie", 294, 567, 65], ["(oktanty)", 306, 563, 43],
    ["(°C)", 892, 97, 22], ["temperatura", 907, 96, 65], ["(%)", 892, 183, 18], ["wilgotność wzgl.", 907, 185, 89],
    ["(mm Hg)", 892, 273, 47], ["ciśnienie", 907, 273, 49], ["(km/h)", 892, 362, 33], ["wiatr", 907, 361, 25],
    ["(km)", 892, 477, 22], ["widzialność", 907, 475, 63], ["(frakcja)", 892, 558, 33], ["mgła", 907, 558, 23]
];
rotatedRows.forEach(d => texts.append("text").attr("text-anchor", "middle").attr("fill", navy)
    .attr("textLength", d[3]).attr("lengthAdjust", "spacingAndGlyphs")
    .attr("transform", `translate(${d[1]},${d[2]}) rotate(-90)`).text(d[0]));

// compass marks beside the wind direction panel
[285, 883].forEach(x => {
    texts.append("text").attr("x", x).attr("y", 420).attr("fill", navy).text("W");
    texts.append("text").attr("x", x + 10).attr("y", 412).attr("fill", navy).text("N");
    texts.append("text").attr("x", x + 17).attr("y", 420).attr("fill", navy).text("E");
    texts.append("text").attr("x", x + 10).attr("y", 428).attr("fill", navy).text("S");
});

// leader lines between legend texts and the sample panels
const leaders = [
    ["#000", "68,16 133,16 157,46"], ["#a52a2a", "102,43.5 119,43.5 157,103"], ["#f00", "92,76.5 117,76.5"], ["#f00", "130,76.5 137,80 157,103"],
    ["#00f", "70,99 117,99"], ["#00f", "130,99 135,99 150,108"], ["#6a5acd", "93,120 135,120 140,113"], ["#f00", "103,137 135,137 146,146"],
    ["#e8400c", "106,151 112,151"], ["#e8400c", "128,151 143,163"], ["#000", "98,166 110,166"], ["#000", "128,166 136,170"],
    ["#00a000", "71,179 139,179"], ["#00a000", "80,190 146,190"], ["#0030c0", "70,202 112,202"], ["#0030c0", "128,203 160,170"],
    ["#0030c0", "81,213 135,213 160,180"], ["#f00", "96,225 140,225 146,220"], ["#000", "52,264 128,264 135,262"],
    ["#f00", "112,334 118,334"], ["#f00", "130,333 137,320"], ["#f00", "108,348 130,348 145,340"], ["#000080", "92,367 138,367"],
    ["#000080", "86,410 135,410 140,415"], ["#a52a2a", "100,430.5 133,430.5 185,447"], ["#000", "57,468 120,468 190,455"],
    ["#444", "56,480 143,480"], ["#999", "55,490 130,490 143,503"], ["#ddd", "55,500 130,500 140,505"],
    ["#87ceff", "57,509 135,509"], ["#87ceff", "57,512 135,512"], ["#ff8c00", "67,527 127,527 172,465"],
    ["#87ceff", "54,556 185,556"], ["#87ceff", "54,559 185,559"], ["#fff", "54,557.5 185,557.5"], ["#999", "49,571 193,571"],
    ["#333", "37,583 122,583"], ["#333", "128,583 136,583"], ["#222", "72,594 157,594"], ["#ffb000", "25,605 215,605 220,600"], ["#000", "140,625 148,625 157,607"]
];
svg.append("g").selectAll("polyline").data(leaders).enter().append("polyline")
    .attr("points", d => d[1]).attr("fill", "none").attr("stroke", d => d[0]).attr("stroke-width", 1);
</script>
</body>
</html>
